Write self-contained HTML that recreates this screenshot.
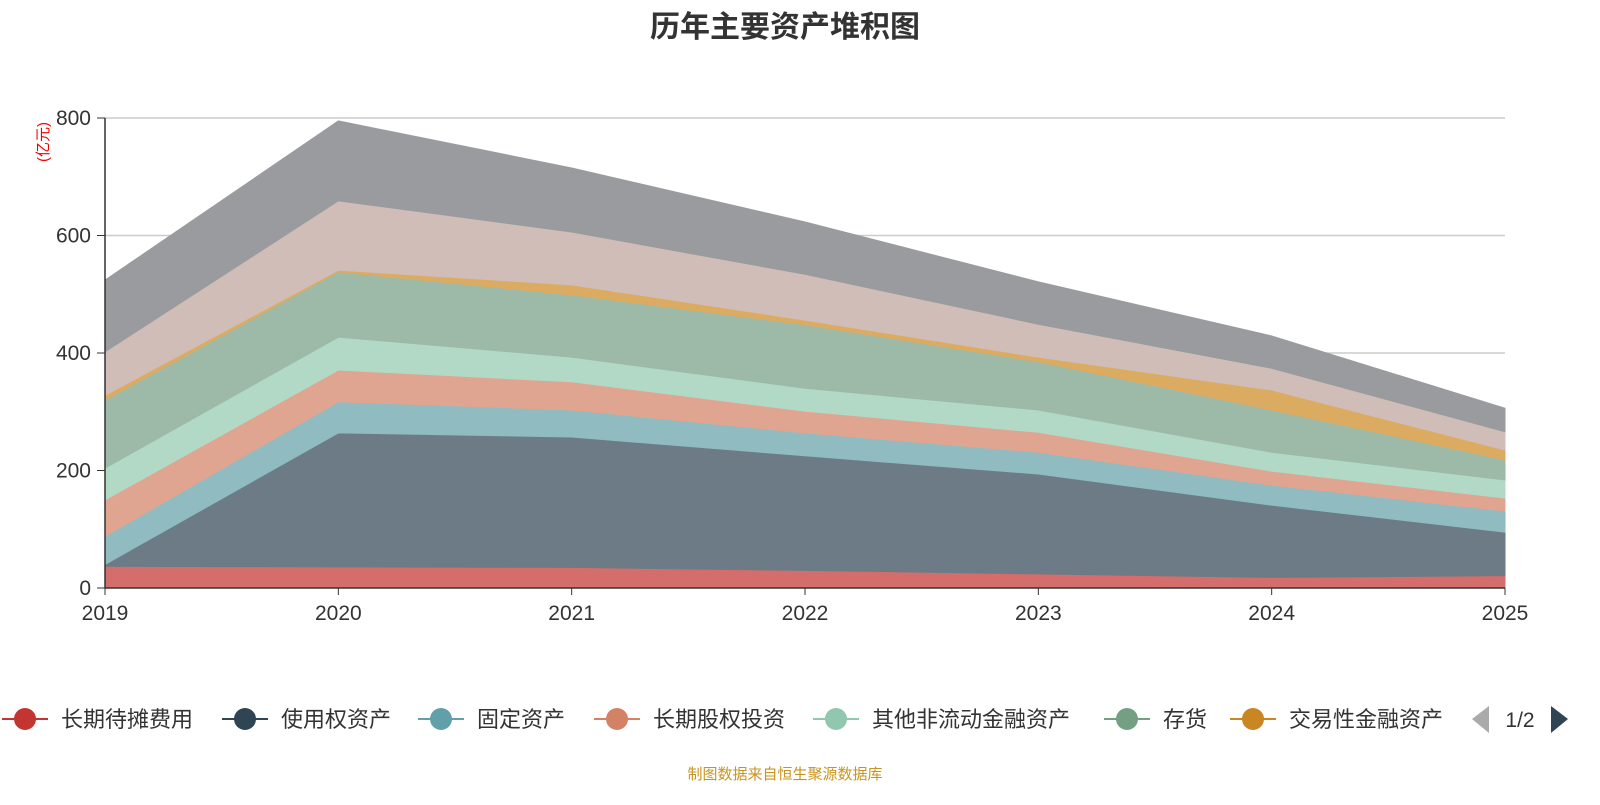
<!DOCTYPE html>
<html><head><meta charset="utf-8">
<style>
body{margin:0;background:#fff;}
svg text{font-family:"Liberation Sans","Noto Sans CJK SC",sans-serif;}
</style></head>
<body>
<svg id="chart" width="1600" height="800" viewBox="0 0 1600 800" xmlns="http://www.w3.org/2000/svg">
<text x="785" y="37" text-anchor="middle" font-size="30" font-weight="bold" fill="#333">历年主要资产堆积图</text>
<text transform="translate(48,142) rotate(-90)" text-anchor="middle" font-size="15" fill="#e00">(亿元)</text>
<g id="grid"></g><g id="areas"></g><g id="axes"></g><g id="legend"></g>
<text x="785" y="779" text-anchor="middle" font-size="15" fill="#c8941e">制图数据来自恒生聚源数据库</text>
</svg>
<script>
const years=["2019","2020","2021","2022","2023","2024","2025"];
const seriesNames=["长期待摊费用","使用权资产","固定资产","长期股权投资","其他非流动金融资产","存货","交易性金融资产","货币资金","其他资产"];
const s0=[37,36,35,30,24,18,21];
const s1=[3,228,222,195,170,123,74];
const s2=[48,53,46,39,37,34,36];
const s3=[62,54,48,37,34,24,22];
const s4=[54,56,42,39,38,32,31];
const s5=[116,111,106,108,82,72,34];
const s6=[8,3,17,8,8,34,17];
const s7=[74,118,90,78,56,37,31];
const s8=[122,136,109,89,72,55,40];
const yTicks=[0,200,400,600,800];
const series=[s0,s1,s2,s3,s4,s5,s6,s7,s8];
const fills=["#d46e6c","#6c7b86","#8fbbc1","#e0a590","#b1d9c6","#9dbaa8","#dcab62","#d0bdb7","#9a9b9e"];
const marks=["#c23531","#2f4554","#61a0a8","#d48265","#91c7ae","#749f83","#ca8622"];
const NS="http://www.w3.org/2000/svg";
const X0=105,X1=1505,Y0=588,Y1=118,YMAX=800;
const x=i=>X0+i*(X1-X0)/(years.length-1);
const y=v=>Y0-v*(Y0-Y1)/YMAX;
function mk(t,a,p){const e=document.createElementNS(NS,t);for(const k in a)e.setAttribute(k,a[k]);p.appendChild(e);return e;}
const grid=document.getElementById('grid'),axes=document.getElementById('axes'),areas=document.getElementById('areas'),leg=document.getElementById('legend');
yTicks.forEach(t=>{
  if(t>0){const l=mk('line',{x1:X0,x2:X1,y1:y(t),y2:y(t),stroke:'#ccc','stroke-width':1.5},grid);
  
  }
  const tk=mk('line',{x1:X0-8,x2:X0,y1:y(t),y2:y(t),stroke:'#333'},axes);
  
  
  const tx=mk('text',{x:X0-14,y:y(t)+7,'text-anchor':'end','font-size':21,fill:'#333'},axes);tx.textContent=t;
  
  
});
let base=years.map(()=>0);
series.forEach((s,k)=>{
  const top=s.map((v,i)=>base[i]+v);
  let d='M'+years.map((_,i)=>x(i)+','+y(top[i])).join('L');
  d+='L'+years.map((_,i)=>i).reverse().map(i=>x(i)+','+y(base[i])).join('L')+'Z';
  const p=mk('path',{d:d,fill:fills[k],stroke:fills[k],'stroke-width':1},areas);
  
  
  base=top;
});
const ya=mk('line',{x1:X0,x2:X0,y1:Y1,y2:Y0,stroke:'#333','stroke-width':1.5},axes);


const xa=mk('line',{x1:X0,x2:X1,y1:Y0,y2:Y0,stroke:'#333','stroke-width':1.5},axes);


years.forEach((yr,i)=>{
  const tk=mk('line',{x1:x(i),x2:x(i),y1:Y0,y2:Y0+7,stroke:'#333'},axes);
  
  
  const t=mk('text',{x:x(i),y:Y0+32,'text-anchor':'middle','font-size':21,fill:'#333'},axes);t.textContent=yr;
  
  
});
const lx=[2,222,418,594,813,1104,1230];
lx.forEach((px,k)=>{
  const g=mk('g',{},leg);
  
  
  mk('line',{x1:px,x2:px+46,y1:719,y2:719,stroke:marks[k],'stroke-width':2},g);
  mk('circle',{cx:px+23,cy:719,r:11,fill:marks[k]},g);
  const t=mk('text',{x:px+59,y:727,'font-size':22,fill:'#333'},g);t.textContent=seriesNames[k];
});
const pl=mk('path',{d:'M1489,706L1472,719L1489,733Z',fill:'#aaa'},leg);


const pt=mk('text',{x:1520,y:727,'text-anchor':'middle','font-size':21,fill:'#333'},leg);pt.textContent='1/2';


const pn=mk('path',{d:'M1551,706L1568,719L1551,733Z',fill:'#2f4554'},leg);


</script>
</body></html>
